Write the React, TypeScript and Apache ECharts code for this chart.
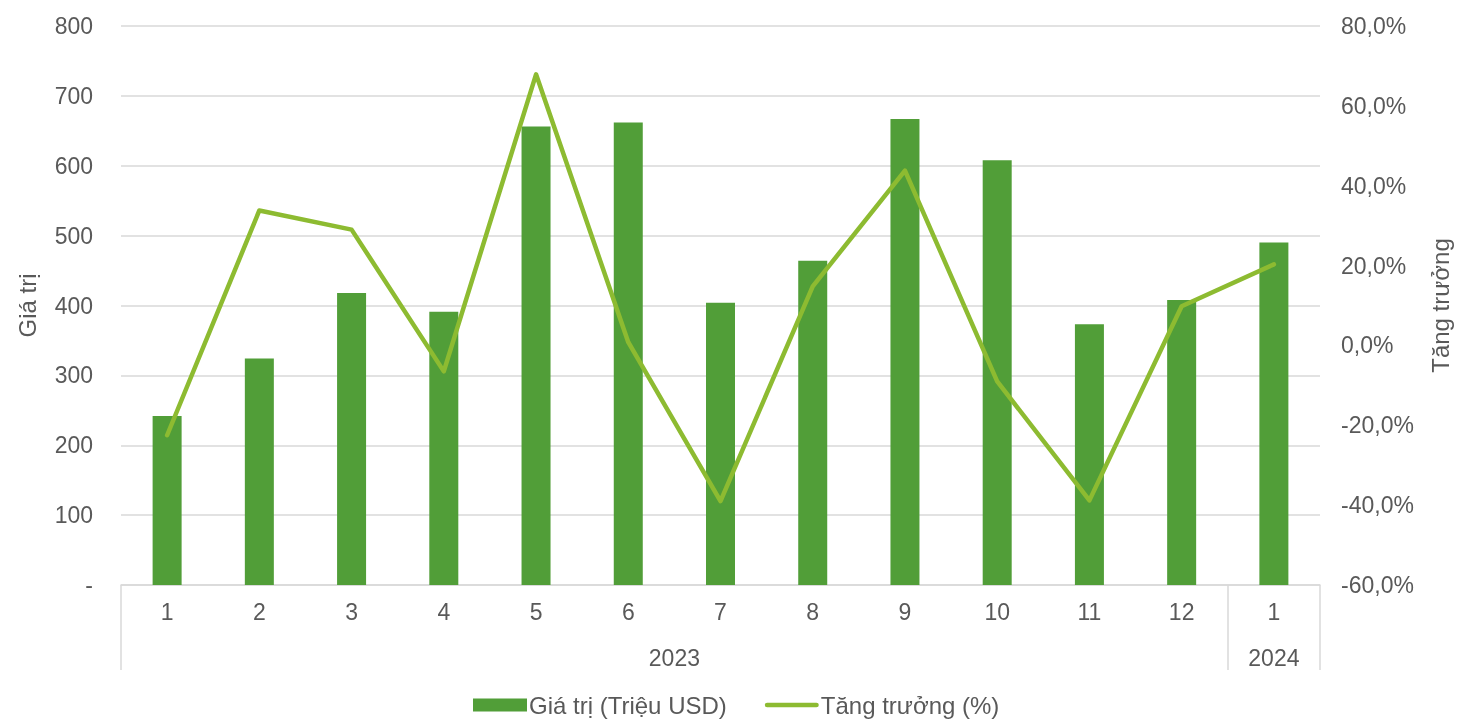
import React, { useEffect, useRef } from "react";
import * as echarts from "echarts";

const months = ["1", "2", "3", "4", "5", "6", "7", "8", "9", "10", "11", "12", "1"];
const yearLabels = ["2023", "2024"];
const values = [242, 324, 418, 391, 656, 662, 404, 464, 667, 608, 373, 408, 490];
const growth = [-22.5, 33.8, 29.0, -6.5, 67.9, 0.8, -39.0, 14.8, 43.8, -9.0, -38.8, 9.8, 20.3];
const leftTicks = { min: 0, max: 800, interval: 100 };
const rightTicks = { min: -60, max: 80, interval: 20 };

const FONT = "'Liberation Sans', Arial, sans-serif";
const TXT = "#595959";
const GRID = "#d9d9d9";
const BAR = "#519E38";
const LINE = "#8DBB31";
const FS = 23;

export default function App() {
  const ref = useRef<HTMLDivElement>(null);
  useEffect(() => {
    if (!ref.current) return;
    const chart = echarts.init(ref.current, null, { renderer: "svg" });
    chart.setOption({
      animation: false,
      textStyle: { fontFamily: FONT },
      grid: { left: 121, right: 135, top: 26, bottom: 134, containLabel: false },
      legend: {
        left: 473,
        top: 693,
        padding: 0,
        itemGap: 38,
        itemWidth: 54,
        itemHeight: 13,
        textStyle: { color: TXT, fontSize: 24, fontFamily: FONT, padding: [0, 0, 0, -3] },
        data: [
          { name: "Giá trị (Triệu USD)", icon: "rect" },
          {
            name: "Tăng trưởng (%)",
            icon: "path://M2.5,0 L55.5,0 A2.5,2.5 0 0 1 55.5,5 L2.5,5 A2.5,2.5 0 0 1 2.5,0 Z",
          },
        ],
      },
      xAxis: [
        {
          type: "category",
          data: months,
          position: "bottom",
          axisLine: { show: true, onZero: false, lineStyle: { color: GRID, width: 1.5 } },
          axisTick: { show: false },
          axisLabel: { color: TXT, fontSize: FS, margin: 15, fontFamily: FONT },
          splitLine: { show: false },
        },
        {
          type: "value",
          min: 0,
          max: months.length,
          position: "bottom",
          axisLine: { show: false, onZero: false },
          axisTick: {
            show: true,
            customValues: [0, 12, 13],
            length: 85,
            lineStyle: { color: GRID, width: 1.5 },
          },
          axisLabel: {
            show: true,
            customValues: [6, 12.5],
            formatter: (v: number) => (v < 12 ? yearLabels[0] : yearLabels[1]),
            color: TXT,
            fontSize: FS,
            margin: 61,
            fontFamily: FONT,
          },
          splitLine: { show: false },
        },
      ],
      yAxis: [
        {
          type: "value",
          ...leftTicks,
          name: "Giá trị",
          nameLocation: "middle",
          nameGap: 82,
          nameTextStyle: { color: TXT, fontSize: 24, fontFamily: FONT },
          axisLine: { show: false },
          axisTick: { show: false },
          axisLabel: {
            color: TXT,
            fontSize: FS,
            margin: 28,
            fontFamily: FONT,
            formatter: (v: number) => (v === 0 ? "-" : String(v)),
          },
          splitLine: { show: true, lineStyle: { color: GRID, width: 1.5 } },
        },
        {
          type: "value",
          ...rightTicks,
          position: "right",
          name: "Tăng trưởng",
          nameLocation: "middle",
          nameGap: 108,
          nameTextStyle: { color: TXT, fontSize: 24, fontFamily: FONT },
          axisLine: { show: false },
          axisTick: { show: false },
          axisLabel: {
            color: TXT,
            fontSize: FS,
            margin: 21,
            fontFamily: FONT,
            formatter: (v: number) => v.toFixed(1).replace(".", ",") + "%",
          },
          splitLine: { show: false },
        },
      ],
      series: [
        {
          name: "Giá trị (Triệu USD)",
          type: "bar",
          xAxisIndex: 0,
          yAxisIndex: 0,
          data: values,
          barWidth: 29,
          itemStyle: { color: BAR },
        },
        {
          name: "Tăng trưởng (%)",
          type: "line",
          xAxisIndex: 0,
          yAxisIndex: 1,
          data: growth,
          symbol: "none",
          showSymbol: false,
          lineStyle: { color: LINE, width: 4.5, cap: "round", join: "round" },
          itemStyle: { color: LINE },
        },
      ],
    });
    return () => chart.dispose();
  }, []);
  return (
    <div
      ref={ref}
      style={{ position: "fixed", left: 0, top: 0, width: 1460, height: 719 }}
    />
  );
}
